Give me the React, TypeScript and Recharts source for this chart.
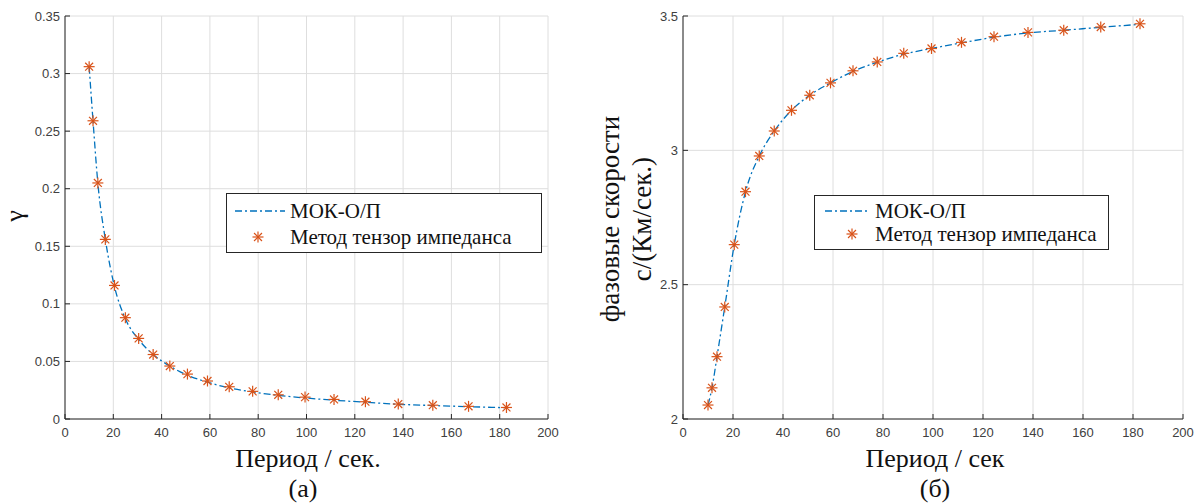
import React from 'react';
import { ComposedChart, Line, Scatter, XAxis, YAxis, CartesianGrid, Legend } from 'recharts';

// ---- data ----
const periods = [10.0, 11.6, 13.6, 16.7, 20.5, 25.0, 30.5, 36.5, 43.4, 50.7, 59.0, 68.0, 77.7, 88.3, 99.4, 111.4, 124.4, 138.0, 152.3, 167.1, 182.8];
const gammaMok = [0.306, 0.259, 0.205, 0.156, 0.115, 0.087, 0.069, 0.056, 0.046, 0.038, 0.032, 0.027, 0.0235, 0.0205, 0.0183, 0.0163, 0.0146, 0.0128, 0.0117, 0.0107, 0.0098];
const gammaTensor = [0.306, 0.259, 0.205, 0.156, 0.116, 0.088, 0.070, 0.056, 0.046, 0.039, 0.033, 0.028, 0.024, 0.021, 0.019, 0.017, 0.015, 0.013, 0.012, 0.011, 0.010];
const velMok = [2.052, 2.116, 2.232, 2.417, 2.649, 2.846, 2.979, 3.072, 3.149, 3.205, 3.251, 3.294, 3.328, 3.358, 3.379, 3.400, 3.421, 3.437, 3.447, 3.458, 3.469];
const velTensor = [2.052, 2.116, 2.232, 2.417, 2.649, 2.846, 2.979, 3.072, 3.149, 3.205, 3.251, 3.296, 3.329, 3.361, 3.379, 3.402, 3.423, 3.439, 3.447, 3.459, 3.471];

const xTicks = [0, 20, 40, 60, 80, 100, 120, 140, 160, 180, 200];
const gammaTicks = [0, 0.05, 0.1, 0.15, 0.2, 0.25, 0.3, 0.35];
const velTicks = [2, 2.5, 3, 3.5];

const seriesMokName = 'МОК-О/П';
const seriesTensorName = 'Метод тензор импеданса';

const rowsA = periods.map((x, i) => ({ x, mok: gammaMok[i], tensor: gammaTensor[i] }));
const rowsB = periods.map((x, i) => ({ x, mok: velMok[i], tensor: velTensor[i] }));

// ---- styles ----
const BLUE = '#0072BD';
const ORANGE = '#D95319';
const AXIS = '#262626';
const GRID = '#dedede';
const SERIF = "'Liberation Serif', 'Times New Roman', serif";
const SANS = "'Liberation Sans', Arial, Helvetica, sans-serif";
const DASH = '7 3 2 3';

const tickStyle = { fontSize: 13, fontFamily: SANS, fill: '#404040' };

function Star(props: any) {
  const { cx, cy } = props;
  if (cx == null || cy == null) return null;
  const r = 5.5;
  const d = r * 0.72;
  return (
    <g stroke={ORANGE} strokeWidth={1.2}>
      <line x1={cx - r} y1={cy} x2={cx + r} y2={cy} />
      <line x1={cx} y1={cy - r} x2={cx} y2={cy + r} />
      <line x1={cx - d} y1={cy - d} x2={cx + d} y2={cy + d} />
      <line x1={cx - d} y1={cy + d} x2={cx + d} y2={cy - d} />
    </g>
  );
}

function makeLegend(w: number, h: number, lineX1: number, lineX2: number, markX: number, textX: number, row1: number, row2: number) {
  return () => (
    <svg width={w} height={h} style={{ display: 'block' }}>
      <rect x={0.5} y={0.5} width={w - 1} height={h - 1} fill="#fff" stroke={AXIS} strokeWidth={1} />
      <line x1={lineX1} y1={row1} x2={lineX2} y2={row1} stroke={BLUE} strokeWidth={1.3} strokeDasharray={DASH} />
      <text x={textX} y={row1} dominantBaseline="central" fontFamily={SERIF} fontSize={21} fill="#111">{seriesMokName}</text>
      <Star cx={markX} cy={row2} />
      <text x={textX} y={row2} dominantBaseline="central" fontFamily={SERIF} fontSize={21} fill="#111">{seriesTensorName}</text>
    </svg>
  );
}

type PanelProps = {
  rows: any[];
  left: number;
  width: number;
  yAxisWidth: number;
  rightMargin: number;
  yDomain: [number, number];
  yTicks: number[];
  legend: { x: number; y: number; w: number; h: number; content: () => any };
};

function Panel({ rows, left, width, yAxisWidth, rightMargin, yDomain, yTicks, legend }: PanelProps) {
  return (
    <div style={{ position: 'absolute', left, top: 0, width, height: 504 }}>
      <ComposedChart
        width={width}
        height={504}
        data={rows}
        margin={{ top: 16, right: rightMargin, bottom: 55, left: 0 }}
      >
        <CartesianGrid xAxisId="b" yAxisId="l" stroke={GRID} strokeWidth={1} />
        <XAxis
          xAxisId="b"
          dataKey="x"
          type="number"
          domain={[0, 200]}
          ticks={xTicks}
          interval={0}
          height={30}
          allowDataOverflow
          axisLine={{ stroke: AXIS, strokeWidth: 1 }}
          tickLine={{ stroke: AXIS, strokeWidth: 1 }}
          tickSize={-5}
          tickMargin={14}
          tick={tickStyle}
        />
        <XAxis
          xAxisId="t"
          dataKey="x"
          orientation="top"
          type="number"
          domain={[0, 200]}
          ticks={xTicks}
          interval={0}
          height={0}
          allowDataOverflow
          axisLine={{ stroke: AXIS, strokeWidth: 1 }}
          tickLine={{ stroke: AXIS, strokeWidth: 1 }}
          tickSize={-5}
          tick={false}
        />
        <YAxis
          yAxisId="l"
          type="number"
          domain={yDomain}
          ticks={yTicks}
          interval={0}
          width={yAxisWidth}
          allowDataOverflow
          axisLine={{ stroke: AXIS, strokeWidth: 1 }}
          tickLine={{ stroke: AXIS, strokeWidth: 1 }}
          tickSize={-5}
          tickMargin={10}
          tick={tickStyle}
        />
        <YAxis
          yAxisId="r"
          orientation="right"
          type="number"
          domain={yDomain}
          ticks={yTicks}
          interval={0}
          width={0}
          allowDataOverflow
          axisLine={{ stroke: AXIS, strokeWidth: 1 }}
          tickLine={{ stroke: AXIS, strokeWidth: 1 }}
          tickSize={-5}
          tick={false}
        />
        <Line
          xAxisId="b"
          yAxisId="l"
          type="monotone"
          dataKey="mok"
          name={seriesMokName}
          stroke={BLUE}
          strokeWidth={1.3}
          strokeDasharray={DASH}
          dot={false}
          activeDot={false}
          isAnimationActive={false}
        />
        <Scatter
          xAxisId="b"
          yAxisId="l"
          dataKey="tensor"
          name={seriesTensorName}
          shape={Star}
          isAnimationActive={false}
        />
        <Legend
          layout="horizontal"
          verticalAlign="middle"
          align="center"
          content={legend.content}
          wrapperStyle={{ position: 'absolute', left: legend.x, top: legend.y, width: legend.w, height: legend.h }}
        />
      </ComposedChart>
    </div>
  );
}

export default function App() {
  return (
    <div style={{ position: 'absolute', left: 0, top: 0, width: 1204, height: 504, background: '#fff', overflow: 'hidden' }}>
      <Panel
        rows={rowsA}
        left={0}
        width={600}
        yAxisWidth={65}
        rightMargin={52}
        yDomain={[0, 0.35]}
        yTicks={gammaTicks}
        legend={{ x: 226, y: 193, w: 316, h: 60, content: makeLegend(316, 60, 9, 59, 32, 64, 18, 44) }}
      />
      <Panel
        rows={rowsB}
        left={600}
        width={604}
        yAxisWidth={83}
        rightMargin={21}
        yDomain={[2, 3.5]}
        yTicks={velTicks}
        legend={{ x: 214, y: 195, w: 295, h: 55, content: makeLegend(295, 55, 11, 55, 38, 61, 16, 39) }}
      />
      <svg width={1204} height={504} style={{ position: 'absolute', left: 0, top: 0, pointerEvents: 'none' }}>
        <g fontFamily={SERIF} fill="#111" textAnchor="middle">
          <text x={14} y={216} fontSize={26} dominantBaseline="central" transform="rotate(-90 14 216)">γ</text>
          <text x={308} y={467} fontSize={26}>Период / сек.</text>
          <text x={303} y={497} fontSize={26}>(а)</text>
          <text x={610} y={219} fontSize={27} dominantBaseline="central" transform="rotate(-90 610 219)">фазовые скорости</text>
          <text x={642} y={219} fontSize={27} dominantBaseline="central" transform="rotate(-90 642 219)">с/(Км/сек.)</text>
          <text x={935} y={467} fontSize={26}>Период / сек</text>
          <text x={935} y={497} fontSize={26}>(б)</text>
        </g>
      </svg>
    </div>
  );
}
